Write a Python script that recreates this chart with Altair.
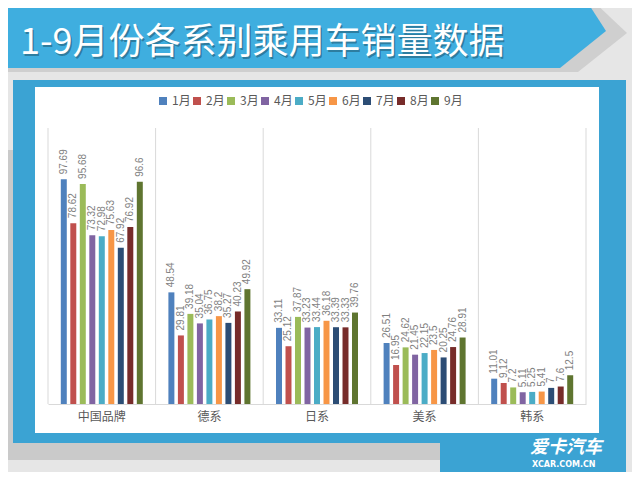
import altair as alt
import pandas as pd

categories = ["中国品牌", "德系", "日系", "美系", "韩系"]
months = ["1月", "2月", "3月", "4月", "5月", "6月", "7月", "8月", "9月"]
china = [97.69, 78.62, 95.68, 73.32, 72.98, 75.63, 67.92, 76.92, 96.6]
german = [48.54, 29.81, 39.18, 35.04, 36.75, 38.2, 35.27, 40.23, 49.92]
japan = [33.11, 25.12, 37.87, 33.23, 33.44, 36.18, 33.39, 33.33, 39.76]
usa = [26.51, 16.95, 24.62, 21.45, 22.15, 23.5, 20.25, 24.76, 28.91]
korea = [11.01, 9.12, 7.2, 5.11, 5.25, 5.41, 7, 7.6, 12.5]
colors = ["#4F81BD", "#C0504D", "#9BBB59", "#8064A2", "#4BACC6",
          "#F79646", "#2C4D75", "#772C2A", "#5F7530"]
title_text = "1-9月份各系别乘用车销量数据"

rows = []
for cat, vals in zip(categories, [china, german, japan, usa, korea]):
    for m, v in zip(months, vals):
        rows.append({"cat": cat, "month": m, "value": v, "label": f"{v:g}"})
df = pd.DataFrame(rows)
one = pd.DataFrame({"a": [0]})
cats_df = pd.DataFrame({"cat": categories})
last_df = pd.DataFrame({"cat": categories[-1:]})

W, H = 538, 276
FONT_CJK = "Noto Sans CJK SC"
band = W / len(categories)
span = 82.0
xo = alt.XOffset("month:N", sort=months,
                 scale=alt.Scale(paddingInner=0.37, paddingOuter=0,
                                 range=[(band - span) / 2, (band + span) / 2]))
yenc = alt.Y("value:Q", scale=alt.Scale(domain=[0, 120]), axis=None)
xscale = alt.Scale(paddingInner=0, paddingOuter=0)
xaxis = alt.Axis(labelAngle=0, grid=False, ticks=False, title=None, zindex=2,
                 domainColor="#d9d9d9", labelColor="#595959",
                 labelFont=FONT_CJK, labelFontSize=12, labelPadding=7)

def rect(x1, y1, x2, y2, color):
    # decorative shapes, pixel positions relative to the plot origin
    return alt.Chart(one).mark_rect(color=color).encode(
        x=alt.value(x1), x2=alt.value(x2), y=alt.value(y1), y2=alt.value(y2))

def shape(path, color):
    return alt.Chart(one).mark_point(shape=path, size=40000, filled=True,
                                     color=color, opacity=1, strokeWidth=0).encode(
        x=alt.value(-48), y=alt.value(-128))

dark_bg = rect(-48, 22, 400, 332, "#cacaca")
frame = rect(-35, -48, 578, 315, "#3BA3D3")
tab = rect(392, 315, 578, 344, "#3BA3D3")
panel = rect(-13, -41, 551, 305, "#ffffff")
banner_shadow = shape("M0,0L5.92,0L6.27,0.33L5.78,0.72L0,0.72Z", "#cfcfcf")
banner = shape("M0,0L5.86,0L6.06,0.31L5.6,0.68L0,0.68Z", "#3FAEDF")

grid = alt.Chart(cats_df).mark_rule(color="#d9d9d9", strokeWidth=1).encode(
    x=alt.X("cat:N", sort=categories, scale=xscale, bandPosition=0, axis=xaxis),
    y=alt.value(0), y2=alt.value(H))
grid_end = alt.Chart(last_df).mark_rule(color="#d9d9d9", strokeWidth=1).encode(
    x=alt.X("cat:N", sort=categories, scale=xscale, bandPosition=1, axis=xaxis),
    y=alt.value(0), y2=alt.value(H))

bars = alt.Chart(df).mark_bar().encode(
    x=alt.X("cat:N", sort=categories, scale=xscale, axis=xaxis),
    xOffset=xo,
    y=yenc,
    color=alt.Color("month:N", sort=months,
                    scale=alt.Scale(domain=months, range=colors),
                    legend=alt.Legend(title=None, orient="none", legendX=109, legendY=-33,
                                      direction="horizontal", columns=9,
                                      symbolType="square", symbolSize=64,
                                      symbolStrokeWidth=0, labelFont=FONT_CJK,
                                      labelFontSize=12, labelColor="#595959",
                                      labelOffset=3, columnPadding=-3, padding=0)),
)

labels = alt.Chart(df).mark_text(angle=270, align="left", baseline="middle", dx=5,
                                 fontSize=10, color="#7f7f7f",
                                 font="Liberation Sans").encode(
    x=alt.X("cat:N", sort=categories, scale=xscale, axis=xaxis),
    xOffset=xo, y=yenc, text="label:N")

title_shadow = alt.Chart(one).mark_text(text=title_text, font=FONT_CJK, fontSize=36,
                                        color="rgba(0,0,0,0.3)", align="left",
                                        baseline="alphabetic").encode(
    x=alt.value(-26.5), y=alt.value(-72.5))
title = alt.Chart(one).mark_text(text=title_text, font=FONT_CJK, fontSize=36,
                                 color="#ffffff", align="left",
                                 baseline="alphabetic").encode(
    x=alt.value(-28), y=alt.value(-74))

logo1 = alt.Chart(one).mark_text(text="爱卡汽车", font=FONT_CJK, fontSize=18,
                                 fontWeight="bold", fontStyle="italic",
                                 color="#ffffff", align="left",
                                 baseline="alphabetic").encode(
    x=alt.value(482), y=alt.value(325))
logo2 = alt.Chart(one).mark_text(text="XCAR.COM.CN", font="DejaVu Sans", fontSize=8,
                                 fontWeight="bold", color="#ffffff", align="left",
                                 baseline="alphabetic").encode(
    x=alt.value(484), y=alt.value(339))

chart = alt.layer(
    dark_bg, frame, tab, panel, banner_shadow, banner,
    grid, grid_end, bars, labels, title_shadow, title, logo1, logo2
).properties(
    width=W, height=H,
    background="#e6e6e6",
    padding={"left": 40, "top": 120, "right": 46, "bottom": 68},
    autosize=alt.AutoSizeParams(type="none"),
).configure_view(stroke=None)

chart.save("out.html", embed_options={"renderer": "svg", "actions": False})
